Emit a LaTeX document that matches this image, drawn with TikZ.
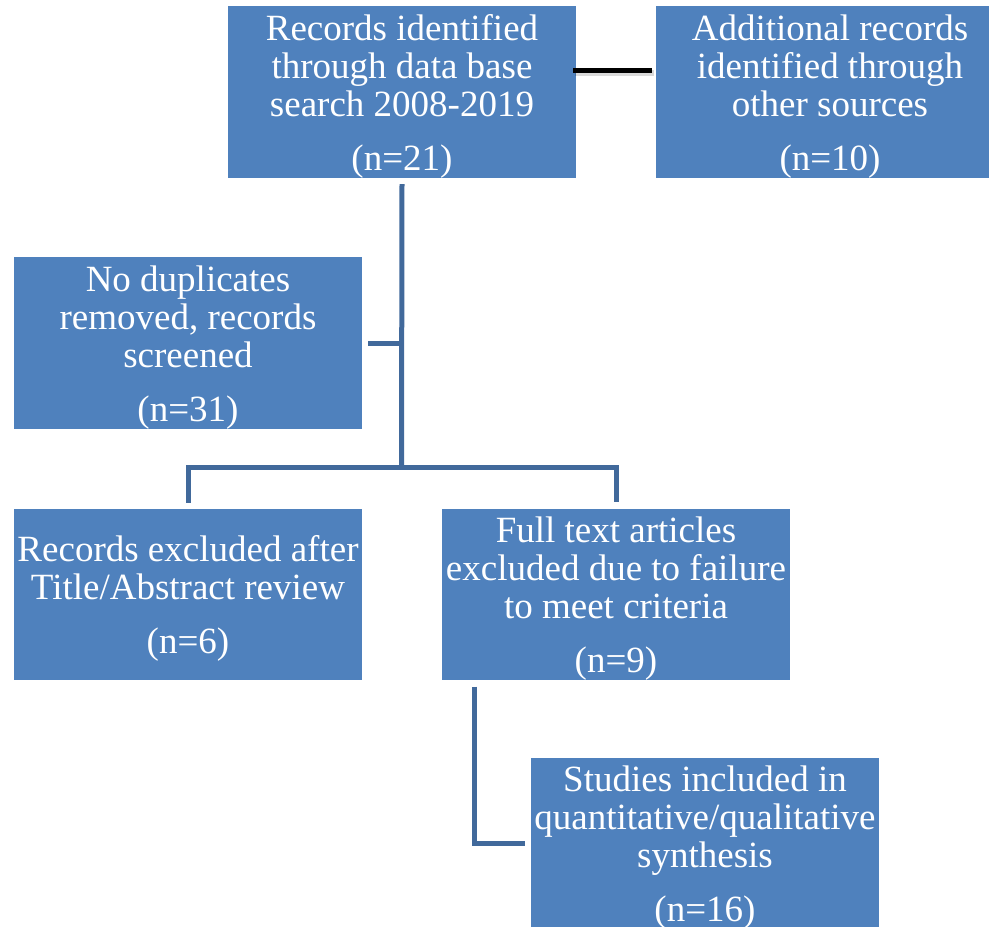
\documentclass[tikz,border=0pt]{standalone}
\usepackage{fontspec}
\setmainfont{Liberation Serif}
\definecolor{boxblue}{HTML}{4F81BD}
\definecolor{linkblue}{HTML}{41699B}
\newcommand{\padtop}{\rule{0pt}{34pt}}
\tikzset{
  flowbox/.style={rectangle, fill=boxblue, text=white, align=center, inner sep=0pt,
    minimum width=348pt, minimum height=172pt, font=\fontsize{37}{38}\selectfont},
  link/.style={draw=linkblue, line width=5pt}
}
\begin{document}
\begin{tikzpicture}[x=1pt,y=-1pt]
\useasboundingbox (0,0) rectangle (989,927);
\node[flowbox] (rec) at (402,92) {\padtop Records identified\\through data base\\search 2008-2019\\[16pt](n=21)};
\node[flowbox] (add) at (830,92) {\padtop Additional records\\identified through\\other sources\\[16pt](n=10)};
\node[flowbox, minimum height=170pt] (dup) at (188,343) {\padtop No duplicates\\removed, records\\screened\\[16pt](n=31)};
\node[flowbox, minimum height=171pt] (excl) at (188,594.5) {\padtop Records excluded after\\Title/Abstract review\\[16pt](n=6)};
\node[flowbox, minimum height=171pt] (full) at (616,594.5) {\padtop Full text articles\\excluded due to failure\\to meet criteria\\[16pt](n=9)};
\node[flowbox, minimum height=167pt] (stud) at (705,843.5) {\padtop Studies included in\\quantitative/qualitative\\synthesis\\[16pt](n=16)};
\coordinate (split) at (401.5,467);
\draw[line width=6pt, black, opacity=0.15] ([shift={(-1,-19)}]rec.east) -- ([shift={(-2,-19)}]add.west);
\draw[line width=5pt] ([shift={(-3,-22)}]rec.east) -- ([shift={(-4,-22)}]add.west);
\draw[link] ([shift={(0,6)}]rec.south) -- (split);
\draw[link] ([shift={(6,0)}]dup.east) -- (dup.east -| split);
\draw[link] ([shift={(0,-6)}]excl.north) |- (split) -| ([shift={(0,-6)}]full.north);
\draw[link] ([shift={(-142,6)}]full.south) |- ([shift={(-6,0)}]stud.west);
\end{tikzpicture}
\end{document}
